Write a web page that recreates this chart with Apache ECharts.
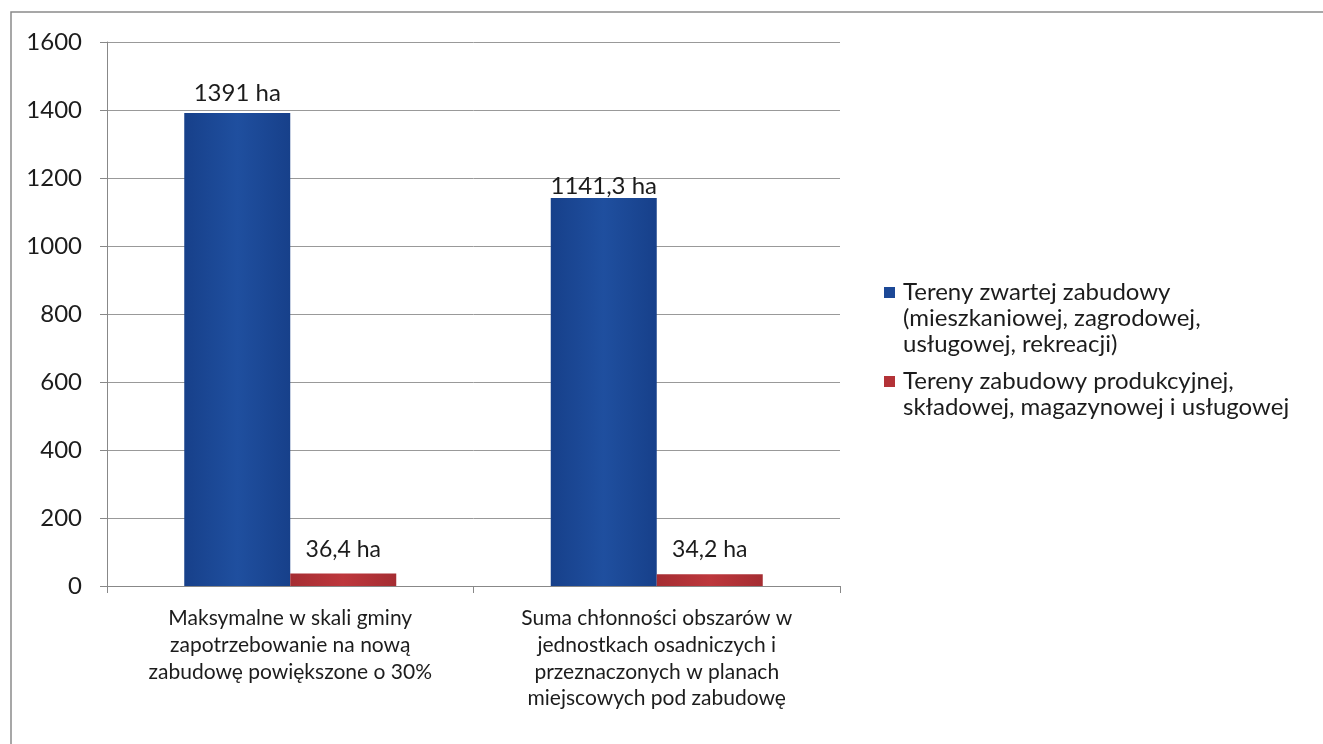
<!DOCTYPE html>
<html>
<head>
<meta charset="utf-8">
<style>
  html, body { margin: 0; padding: 0; background: #fff; }
  #chart { width: 1323px; height: 744px; }
</style>
<script src="https://cdn.jsdelivr.net/npm/echarts@6/dist/echarts.min.js"></script>
</head>
<body>
<div id="chart"></div>
<script>
// Categories (x axis)
const categories = [
  'Maksymalne w skali gminy\nzapotrzebowanie na nową\nzabudowę powiększone o 30%',
  'Suma chłonności obszarów w\njednostkach osadniczych i\nprzeznaczonych w planach\nmiejscowych pod zabudowę'
];
// Series names (legend)
const seriesNames = [
  'Tereny zwartej zabudowy\n(mieszkaniowej, zagrodowej,\nusługowej, rekreacji)',
  'Tereny zabudowy produkcyjnej,\nskładowej, magazynowej i usługowej'
];
// Values in hectares
const compactValues = [1391, 1141.3];
const industrialValues = [36.4, 34.2];
// Data label texts
const compactLabels = ['1391 ha', '1141,3 ha'];
const industrialLabels = ['36,4 ha', '34,2 ha'];
// Y axis scale
const yMin = 0, yMax = 1600, yStep = 200;

const FONT = 'Lato, "Open Sans", sans-serif';
const TXT = '#1c1c1c';

const blueFill = new echarts.graphic.LinearGradient(0, 0, 1, 0, [
  { offset: 0, color: '#17408a' },
  { offset: 0.5, color: '#1f4f9f' },
  { offset: 1, color: '#17408a' }
]);
const redFill = new echarts.graphic.LinearGradient(0, 0, 1, 0, [
  { offset: 0, color: '#a52d32' },
  { offset: 0.5, color: '#bd373c' },
  { offset: 1, color: '#a52d32' }
]);
const blue = '#1c4896';
const red = '#b33237';

const compactLabelDist = [8, 0];
const industrialLabelDist = [13, 13];

const chart = echarts.init(document.getElementById('chart'), null, { renderer: 'canvas' });

const legendTop = [279, 368];
const legendColors = [blue, red];
const legendGraphics = [];
seriesNames.forEach((name, i) => {
  legendGraphics.push({
    type: 'rect',
    left: 884, top: legendTop[i] + 8,
    shape: { width: 11, height: 11 },
    style: { fill: legendColors[i] }
  });
  legendGraphics.push({
    type: 'text',
    left: 903, top: legendTop[i],
    style: {
      text: name,
      font: '24px ' + FONT,
      fill: TXT,
      lineHeight: 26
    }
  });
});

chart.setOption({
  backgroundColor: '#fff',
  animation: false,
  grid: { left: 107, right: 483, top: 42, bottom: 158, containLabel: false },
  xAxis: {
    type: 'category',
    data: categories,
    axisLine: { lineStyle: { color: '#888', width: 1 } },
    axisTick: { show: true, length: 7, lineStyle: { color: '#888' } },
    axisLabel: {
      color: TXT, fontFamily: FONT, fontSize: 21, lineHeight: 26.7,
      margin: 19, interval: 0
    }
  },
  yAxis: {
    type: 'value',
    min: yMin, max: yMax, interval: yStep,
    axisLine: { show: true, lineStyle: { color: '#888', width: 1 } },
    axisTick: { show: true, length: 7, lineStyle: { color: '#888' } },
    splitLine: { show: true, lineStyle: { color: '#999', width: 1 } },
    axisLabel: {
      color: TXT, fontFamily: FONT, fontSize: 24, margin: 25,
      formatter: (v) => String(v)
    }
  },
  series: [
    {
      name: seriesNames[0],
      type: 'bar',
      barWidth: 106,
      barGap: '0%',
      itemStyle: { color: blueFill },
      data: compactValues.map((v, i) => ({
        value: v,
        label: {
          show: true, position: 'top', distance: compactLabelDist[i],
          formatter: compactLabels[i],
          color: TXT, fontFamily: FONT, fontSize: 24
        }
      }))
    },
    {
      name: seriesNames[1],
      type: 'bar',
      barWidth: 106,
      itemStyle: { color: redFill },
      data: industrialValues.map((v, i) => ({
        value: v,
        label: {
          show: true, position: 'top', distance: industrialLabelDist[i],
          formatter: industrialLabels[i],
          color: TXT, fontFamily: FONT, fontSize: 23
        }
      }))
    }
  ],
  graphic: [
    // outer frame (top and left edges)
    {
      type: 'polyline',
      shape: { points: [[11, 760], [11, 12], [1330, 12]] },
      style: { stroke: '#8a8a8a', lineWidth: 1.5, fill: null }
    }
  ].concat(legendGraphics)
});
</script>
</body>
</html>
